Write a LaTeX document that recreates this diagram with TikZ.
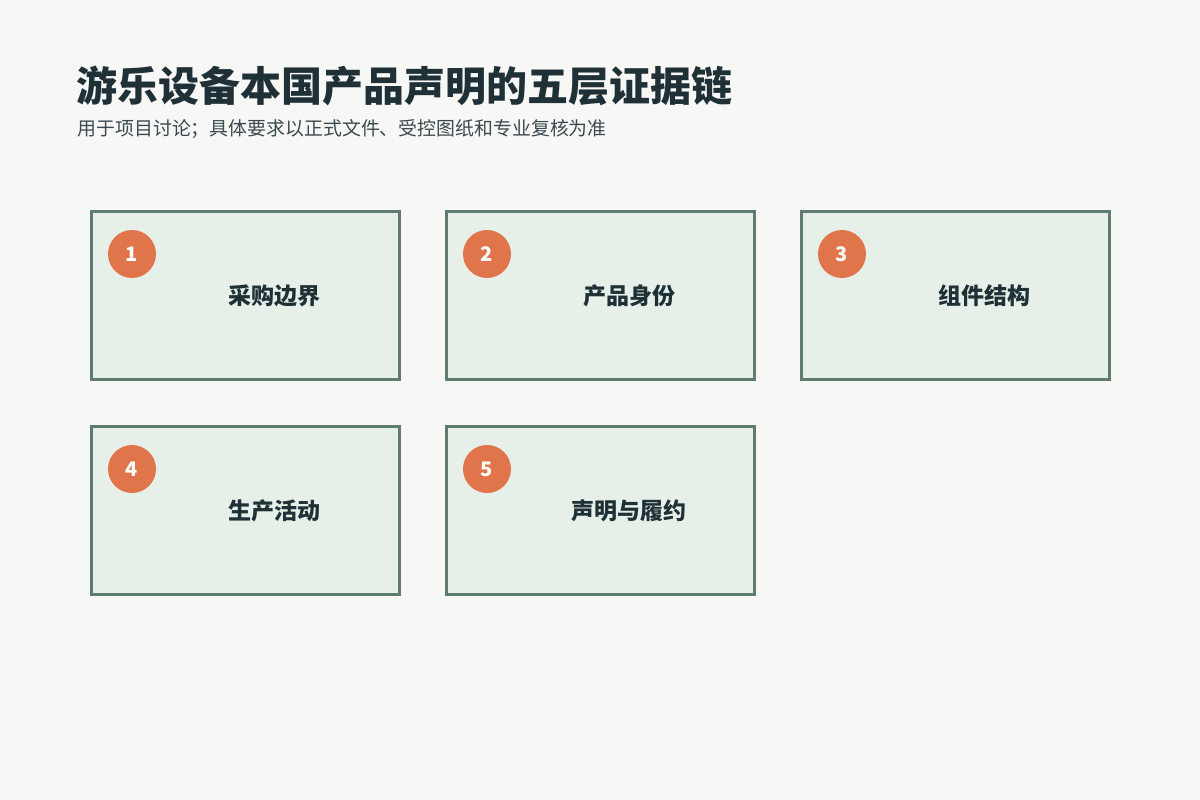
\documentclass[tikz,border=0pt]{standalone}
\usepackage{fontspec}
\usepackage{xcolor}
\usepackage{tikz}
\setmainfont{Noto Sans CJK SC}
\newfontfamily\cjk{Noto Sans CJK SC}
\definecolor{pagebg}{HTML}{F7F7F5}
\definecolor{boxfill}{HTML}{E6F0E8}
\definecolor{boxline}{HTML}{5F7D6E}
\definecolor{badge}{HTML}{E0754C}
\definecolor{ink}{HTML}{1F3036}
\definecolor{subink}{HTML}{3A4A50}

\begin{document}
\begin{tikzpicture}[x=1pt, y=-1pt,
    layerbox/.style={draw=boxline, fill=boxfill, line width=3pt, minimum width=308pt, minimum height=168pt, inner sep=0pt},
    badgedot/.style={circle, fill=badge, minimum size=48pt, inner sep=0pt, text=white, font=\cjk\bfseries\fontsize{20}{24}\selectfont},
    layertext/.style={text=ink, font=\cjk\bfseries\fontsize{23}{27}\selectfont}]
            \fill[pagebg] (0,0) rectangle (1200,800);
            \useasboundingbox (0,0) rectangle (1200,800);
            % Title and note
            \node[anchor=west, text=ink, font=\cjk\bfseries\fontsize{41}{46}\selectfont] (title) at (73,86) {游乐设备本国产品声明的五层证据链};
            \node[anchor=west, text=subink, font=\cjk\fontsize{18.9}{22}\selectfont] (note) at (74,129) {用于项目讨论；具体要求以正式文件、受控图纸和专业复核为准};
            
            % First row
            \node[layerbox] (box1) at (245,295) {};
            \node[badgedot] (num1) at (132,254) {1};
            \node[layertext] (lab1) at (274,296) {采购边界};
            \node[layerbox] (box2) at (600,295) {};
            \node[badgedot] (num2) at (487,254) {2};
            \node[layertext] (lab2) at (629,296) {产品身份};
            \node[layerbox] (box3) at (955,295) {};
            \node[badgedot] (num3) at (842,254) {3};
            \node[layertext] (lab3) at (984,296) {组件结构};
            
            % Second row
            \node[layerbox] (box4) at (245,510) {};
            \node[badgedot] (num4) at (132,469) {4};
            \node[layertext] (lab4) at (274,511) {生产活动};
            \node[layerbox] (box5) at (600,510) {};
            \node[badgedot] (num5) at (487,469) {5};
            \node[layertext] (lab5) at (629,511) {声明与履约};

        \end{tikzpicture}
\end{document}
